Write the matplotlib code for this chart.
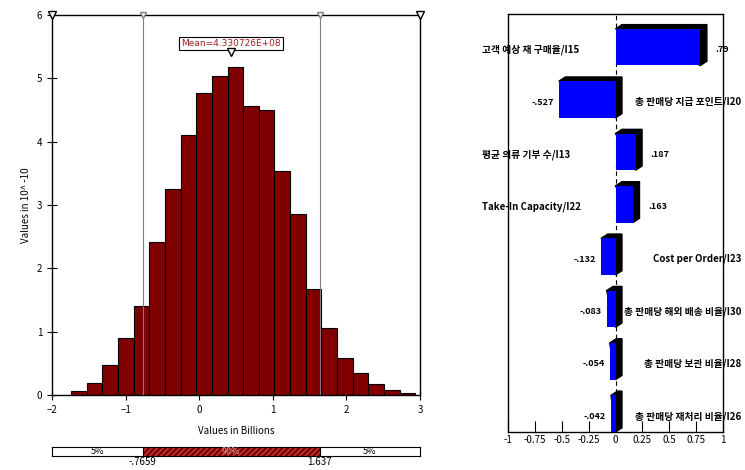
import numpy as np
import matplotlib.pyplot as plt
from matplotlib.patches import Rectangle, Polygon

plt.rcParams['font.family'] = ['Noto Sans CJK KR', 'DejaVu Sans']

# histogram data (values in 10^-10, x in billions)
bin_start = -1.74
bin_width = 0.2125
heights = [0.07, 0.19, 0.47, 0.90, 1.40, 2.42, 3.25, 4.10, 4.77, 5.04, 5.18,
           4.56, 4.50, 3.54, 2.86, 1.67, 1.06, 0.58, 0.35, 0.17, 0.08, 0.03]
mean_val = 0.4330726
p5 = -0.7659
p95 = 1.637
band_labels = ["5%", "90%", "5%"]

# sensitivity (tornado) data
names = ["고객 예상 재 구매율/I15", "총 판매당 지급 포인트/I20", "평균 의류 기부 수/I13",
         "Take-In Capacity/I22", "Cost per Order/I23", "총 판매당 해외 배송 비율/I30",
         "총 판매당 보관 비율/I28", "총 판매당 재처리 비율/I26"]
values = [0.79, -0.527, 0.187, 0.163, -0.132, -0.083, -0.054, -0.042]
value_labels = [".79", "-.527", ".187", ".163", "-.132", "-.083", "-.054", "-.042"]
xticks_r = [-1, -0.75, -0.5, -0.25, 0, 0.25, 0.5, 0.75, 1]

fig = plt.figure(figsize=(7.45, 4.70), dpi=100)

# ---- histogram ----
ax = fig.add_axes([0.0698, 0.1596, 0.494, 0.8085])
edges = bin_start + bin_width * np.arange(len(heights))
ax.bar(edges, heights, width=bin_width, align='edge', color='#800000',
       edgecolor='black', linewidth=0.8, zorder=2)
ax.set_xlim(-2, 3)
ax.set_ylim(0, 6)
ax.axvline(p5, color='gray', linewidth=0.8, zorder=3)
ax.axvline(p95, color='gray', linewidth=0.8, zorder=3)
ax.set_xticks([-2, -1, 0, 1, 2, 3])
ax.set_yticks(range(7))
ax.tick_params(axis='both', labelsize=7, direction='inout', length=7, width=0.8)
ax.set_xlabel("Values in Billions", fontsize=7, labelpad=8)
ax.set_ylabel("Values in 10^ -10", fontsize=7, labelpad=4)
for s in ax.spines.values():
    s.set_linewidth(1)
# markers at top
ax.plot([-2, 3], [6, 6], marker='v', markersize=6, markerfacecolor='white',
        markeredgecolor='black', linestyle='none', clip_on=False, zorder=5)
ax.plot([p5, p95], [6, 6], marker='v', markersize=4, markerfacecolor='white',
        markeredgecolor='gray', linestyle='none', clip_on=False, zorder=5)
ax.text(mean_val, 5.55, "Mean=4.330726E+08", fontsize=6.5, color='#a02020',
        ha='center', va='center', family=['DejaVu Sans'],
        bbox=dict(boxstyle='square,pad=0.2', facecolor='white', edgecolor='black', linewidth=0.8),
        zorder=6)
ax.plot([mean_val], [5.42], marker='v', markersize=6, markerfacecolor='white',
        markeredgecolor='black', linestyle='none', zorder=7)

# ---- percentile band ----
bx = fig.add_axes([0.0698, 0.0298, 0.494, 0.019])
bx.set_xlim(-2, 3)
bx.set_ylim(0, 1)
segs = [(-2, p5), (p5, p95), (p95, 3)]
for (a, b), lab in zip(segs, band_labels):
    if lab == "90%":
        bx.add_patch(Rectangle((a, 0), b - a, 1, facecolor='#800000',
                               edgecolor='#c04040', hatch='//////', linewidth=0))
        bx.text((a + b) / 2, 0.5, lab, fontsize=6.5, color='#e0a0a0', ha='center', va='center')
    else:
        bx.add_patch(Rectangle((a, 0), b - a, 1, facecolor='white', edgecolor='none'))
        bx.text((a + b) / 2, 0.5, lab, fontsize=6.5, color='black', ha='center', va='center')
bx.axvline(p5, color='black', linewidth=0.8)
bx.axvline(p95, color='black', linewidth=0.8)
bx.set_xticks([])
bx.set_yticks([])
for s in bx.spines.values():
    s.set_linewidth(0.8)
bx.text(p5, -0.15, "-.7659", fontsize=7, ha='center', va='top')
bx.text(p95, -0.15, "1.637", fontsize=7, ha='center', va='top')

# ---- tornado chart ----
rx = fig.add_axes([0.6819, 0.0809, 0.2886, 0.889])
rx.set_xlim(-1, 1)
rx.set_ylim(7.35, -0.63)
bh = 0.7
dx, dy = 0.06, 0.08
for i, v in enumerate(values):
    x0 = min(0, v)
    w = abs(v)
    y0 = i - bh / 2
    # black 3D shadow
    shadow = Polygon([(x0, y0), (x0 + dx, y0 - dy), (x0 + w + dx, y0 - dy),
                      (x0 + w + dx, y0 + bh - dy), (x0 + w, y0 + bh)],
                     closed=True, facecolor='black', edgecolor='black', zorder=2)
    rx.add_patch(shadow)
    rx.add_patch(Rectangle((x0, y0), w, bh, facecolor='#0000ff', edgecolor='none', zorder=3))
    if v > 0:
        rx.text(v + dx + 0.08, i + 0.05, value_labels[i], fontsize=6.5, fontweight='bold',
                ha='left', va='center', zorder=4)
        rx.text(-1.24, i + 0.05, names[i], fontsize=7, fontweight='bold',
                ha='left', va='center', zorder=4)
    else:
        rx.text(v - 0.05, i + 0.05, value_labels[i], fontsize=6.5, fontweight='bold',
                ha='right', va='center', zorder=4)
        rx.text(1.17, i + 0.05, names[i], fontsize=7, fontweight='bold',
                ha='right', va='center', zorder=4, clip_on=False)
rx.axvline(0, color='black', linestyle=(0, (4, 3)), linewidth=0.8, zorder=1)
rx.set_xticks(xticks_r)
rx.set_xticklabels(["-1", "-0.75", "-0.5", "-0.25", "0", "0.25", "0.5", "0.75", "1"])
rx.set_yticks([])
rx.tick_params(axis='x', labelsize=7, direction='in', length=8, width=0.8, pad=2)
for s in rx.spines.values():
    s.set_linewidth(1)

fig.savefig("out.png", dpi=100)
